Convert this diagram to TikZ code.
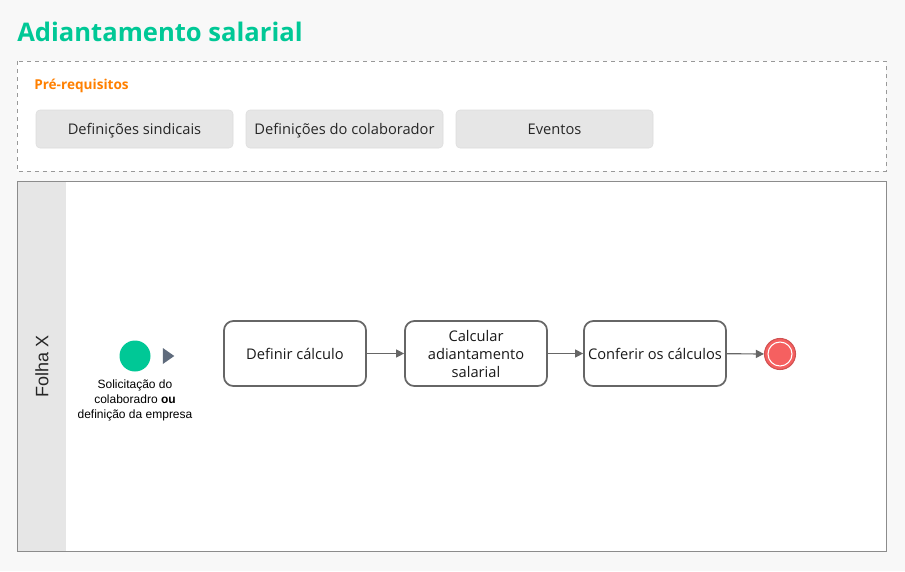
\documentclass[tikz,border=0pt]{standalone}
\usepackage{fontspec}
\setmainfont{Open Sans}
\newfontfamily\arialf{Liberation Sans}
\usetikzlibrary{arrows.meta,shapes.geometric}
\definecolor{bggray}{HTML}{F8F8F8}
\definecolor{boxgray}{HTML}{E6E6E6}
\definecolor{tgreen}{HTML}{00C896}
\definecolor{torange}{HTML}{FF8000}
\definecolor{edgegray}{HTML}{666666}
\definecolor{endred}{HTML}{F56060}
\definecolor{slate}{HTML}{5F6B7C}
\tikzset{
  prebox/.style={draw=boxgray!80!black!20!boxgray, fill=boxgray, rounded corners=3pt, minimum width=197*0.75pt, minimum height=38*0.75pt, inner sep=0pt, text height=0.9em, text depth=0.12em, font=\fontsize{11}{13}\selectfont, text=black!85},
  task/.style={draw=edgegray, line width=1.3pt, fill=white, rounded corners=7pt, minimum width=142*0.75pt, minimum height=65*0.75pt, inner sep=1pt, align=center, font=\fontsize{11}{13.5}\selectfont, text=black!90},
  flow/.style={draw=edgegray, line width=0.9pt, -{Triangle[length=6pt,width=6pt]}},
}
\begin{document}
\begin{tikzpicture}[x=0.75pt,y=-0.75pt]
\useasboundingbox (0,0) rectangle (905,571);
\fill[bggray] (0,0) rectangle (905,571);
% title
\node[anchor=base west, inner sep=0pt, text=tgreen, font=\bfseries\fontsize{19.2}{22}\selectfont] (title) at (17,41) {Adiantamento salarial};
% prerequisites box
\draw[fill=white, draw=gray!80, dashed, line width=0.5pt] (17,61) rectangle (886,171);
\node[anchor=west, inner sep=0pt, text=torange, font=\bfseries\fontsize{10.2}{12}\selectfont] (pre) at (34,86) {Pré-requisitos};
\node[prebox] (p1) at (134.5,129) {Definições sindicais};
\node[prebox] (p2) at (344.5,129) {Definições do colaborador};
\node[prebox] (p3) at (554.5,129) {Eventos};
% pool
\draw[fill=white, draw=gray!90, line width=0.6pt] (17,181) rectangle (886,551);
\fill[boxgray] (17.4,181.4) rectangle (66,550.6);
\draw[draw=gray!90, line width=0.6pt] (17,181) rectangle (886,551);
\node[rotate=90, font=\arialf\fontsize{13.5}{15}\selectfont, text=black!85] (lane) at (42,366) {Folha X};
% start event
\node[circle, fill=tgreen, minimum size=31*0.75pt, inner sep=0pt] (start) at (135,356) {};
\node[isosceles triangle, isosceles triangle apex angle=70, fill=slate, minimum height=9*0.75pt, minimum width=16*0.75pt, inner sep=0pt] (mark) at (167,356) {};
\node[align=center, font=\arialf\fontsize{9}{10.9}\selectfont, text=black, anchor=north, inner sep=0pt] (slabel) at (135,380) {Solicitação do\\colaboradro \textbf{ou}\\definição da empresa};
% tasks
\node[task] (t1) at (295,353.5) {Definir cálculo};
\node[task] (t2) at (476,353.5) {Calcular\\adiantamento\\salarial};
\node[task] (t3) at (655,353.5) {Conferir os cálculos};
% end event
\node[circle, fill=endred, draw=endred!85!black, line width=0.8pt, minimum size=31*0.75pt, inner sep=0pt] (end) at (780,354) {};
\draw[white, line width=0.8pt] (end.center) circle (12*0.75pt);
% flows
\draw[flow] (t1) -- (t2);
\draw[flow] (t2) -- (t3);
\draw[flow] (t3) -- (end);
\end{tikzpicture}
\end{document}
